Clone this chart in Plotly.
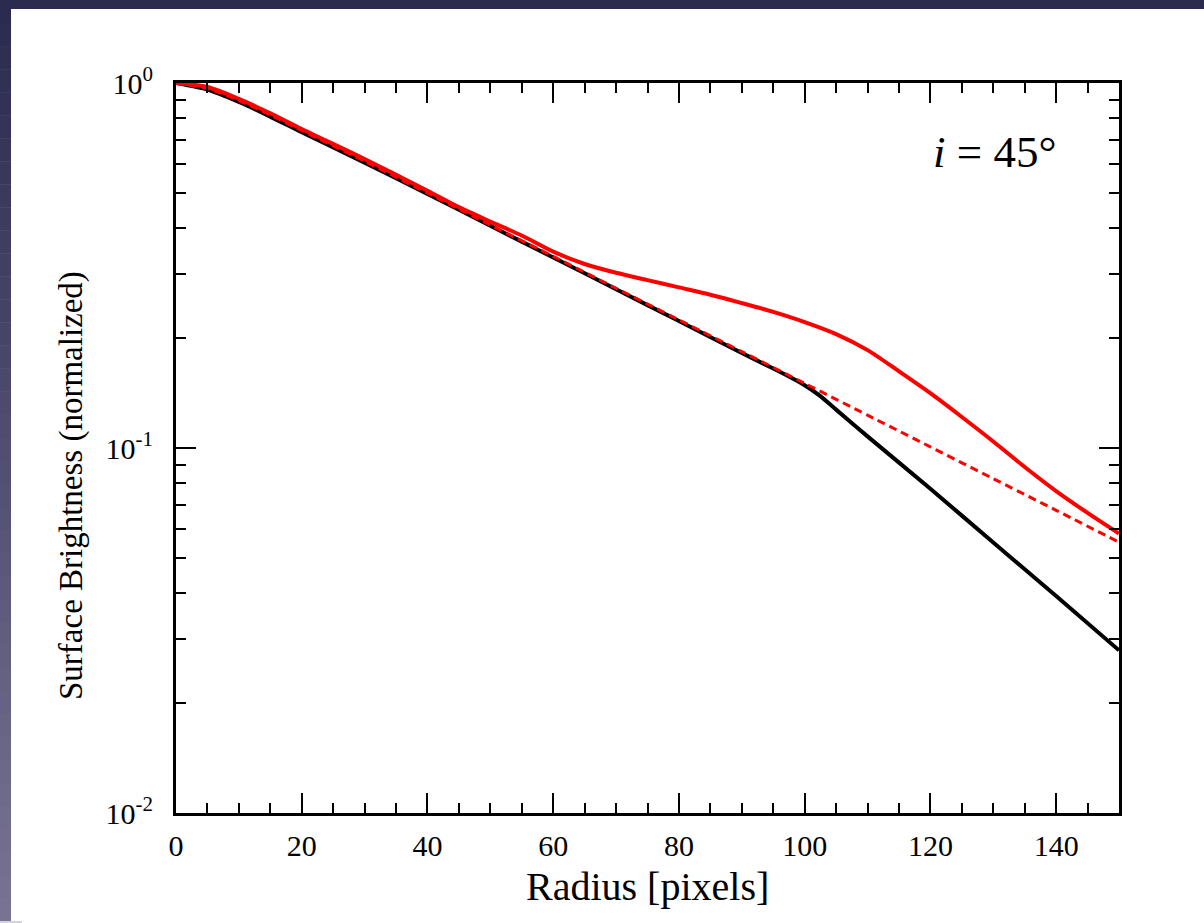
import plotly.graph_objects as go

# ---- data ----
radius_black = [0, 5, 10, 15, 20, 30, 40, 50, 60, 70, 80, 90, 95, 97.5, 100, 102.5, 105, 110, 120, 130, 140, 150]
sb_truncated = [1.000, 0.9594, 0.8872, 0.8091, 0.7328, 0.6053, 0.4966, 0.4064, 0.3327, 0.2723, 0.2228,
                0.1820, 0.1652, 0.1570, 0.1486, 0.1387, 0.1274, 0.1076, 0.0773, 0.0551, 0.0393, 0.0279]

radius_dashed = [0, 5, 10, 15, 20, 30, 40, 50, 60, 70, 80, 90, 100, 110, 120, 130, 140, 150]
sb_untruncated = [1.000, 0.966, 0.895, 0.817, 0.740, 0.610, 0.499, 0.408, 0.335, 0.274, 0.2244,
                  0.1837, 0.1503, 0.1230, 0.1007, 0.0824, 0.0675, 0.0552]

radius_red = [0, 5, 10, 15, 20, 30, 40, 45, 50, 55, 60, 65, 70, 75, 80, 85, 90, 95, 100, 105, 110,
              115, 120, 125, 130, 135, 140, 145, 150]
sb_inclined = [1.000, 0.975, 0.905, 0.826, 0.748, 0.619, 0.507, 0.457, 0.417, 0.382, 0.3451, 0.3192,
               0.302, 0.2884, 0.2754, 0.263, 0.2495, 0.236, 0.2213, 0.2051, 0.1854, 0.1622, 0.1413,
               0.1216, 0.1042, 0.0887, 0.0762, 0.0664, 0.0583]

x_major_ticks = [0, 20, 40, 60, 80, 100, 120, 140]
x_minor_ticks = [v for v in range(0, 151, 5)]
y_major_ticks = [1, 0.1, 0.01]
y_tick_text = ["10<sup>0</sup>", "10<sup>-1</sup>", "10<sup>-2</sup>"]
y_minor_ticks = [m * d for d in (0.01, 0.1) for m in range(2, 10)]

SERIF = "Liberation Serif"

fig = go.Figure()
fig.add_trace(go.Scatter(x=radius_black, y=sb_truncated, mode="lines",
                         line=dict(color="black", width=4, shape="spline", smoothing=0.6),
                         hoverinfo="skip"))
fig.add_trace(go.Scatter(x=radius_dashed, y=sb_untruncated, mode="lines",
                         line=dict(color="#ff0000", width=3, dash="8px,5px", shape="spline", smoothing=0.6),
                         hoverinfo="skip"))
fig.add_trace(go.Scatter(x=radius_red, y=sb_inclined, mode="lines",
                         line=dict(color="#ff0000", width=4, shape="spline", smoothing=0.8),
                         hoverinfo="skip"))

W, H = 1204, 923
L, R, T, B = 176, 85, 83, 110
pw, ph = W - L - R, H - T - B


def px(xp):
    return (xp - L) / pw


def py(yp):
    return 1 - (yp - T) / ph


axis_common = dict(showline=True, linecolor="black", linewidth=3, mirror="ticks",
                   ticks="inside", tickcolor="black", tickwidth=2, ticklen=20,
                   showgrid=False, zeroline=False,
                   tickfont=dict(family=SERIF, size=30, color="black"))

fig.update_xaxes(range=[0, 150], tickmode="array", tickvals=x_major_ticks,
                 ticklabelstandoff=4,
                 minor=dict(tickmode="array", tickvals=x_minor_ticks, ticks="inside",
                            ticklen=10, tickwidth=2, tickcolor="black", showgrid=False),
                 **axis_common)
fig.update_yaxes(type="log", range=[-2, 0], tickmode="array", tickvals=y_major_ticks,
                 ticktext=y_tick_text, ticklabelstandoff=14,
                 minor=dict(tickmode="array", tickvals=y_minor_ticks, ticks="inside",
                            ticklen=10, tickwidth=2, tickcolor="black", showgrid=False),
                 **axis_common)

shapes = []
# dark frame: top strip
shapes.append(dict(type="rect", xref="paper", yref="paper", x0=px(0), x1=px(W), y0=py(9), y1=py(0),
                   fillcolor="#2b2b4f", line=dict(width=0), layer="above"))
# left strip with gradient
nb = 40
c0 = (0x2b, 0x2b, 0x4f)
c1 = (0x78, 0x73, 0x92)
top, bot = 0, 921
for k in range(nb):
    t = k / (nb - 1)
    col = "rgb(%d,%d,%d)" % tuple(round(c0[i] + (c1[i] - c0[i]) * t) for i in range(3))
    y0p = top + (bot - top) * k / nb
    y1p = top + (bot - top) * (k + 1) / nb
    shapes.append(dict(type="rect", xref="paper", yref="paper", x0=px(0), x1=px(11),
                       y0=py(y1p + 0.5), y1=py(y0p), fillcolor=col, line=dict(width=0), layer="above"))
shapes.append(dict(type="rect", xref="paper", yref="paper", x0=px(0), x1=px(22), y0=py(923), y1=py(921),
                   fillcolor="#d4d3dc", line=dict(width=0), layer="above"))

annotations = [
    dict(text="Radius [pixels]", xref="paper", yref="paper", x=0.5, y=py(887),
         xanchor="center", yanchor="middle", showarrow=False,
         font=dict(family=SERIF, size=40, color="black")),
    dict(text="Surface Brightness (normalized)", xref="paper", yref="paper", x=px(71), y=py(486),
         xanchor="center", yanchor="middle", showarrow=False, textangle=-90,
         font=dict(family=SERIF, size=33, color="black")),
    dict(text="<i>i</i> = 45°", xref="paper", yref="paper", x=px(994), y=py(152),
         xanchor="center", yanchor="middle", showarrow=False,
         font=dict(family=SERIF, size=45, color="black")),
]

fig.update_layout(width=W, height=H, margin=dict(l=L, r=R, t=T, b=B, pad=0),
                  paper_bgcolor="white", plot_bgcolor="white", showlegend=False,
                  shapes=shapes, annotations=annotations)

fig.write_html("out.html")
